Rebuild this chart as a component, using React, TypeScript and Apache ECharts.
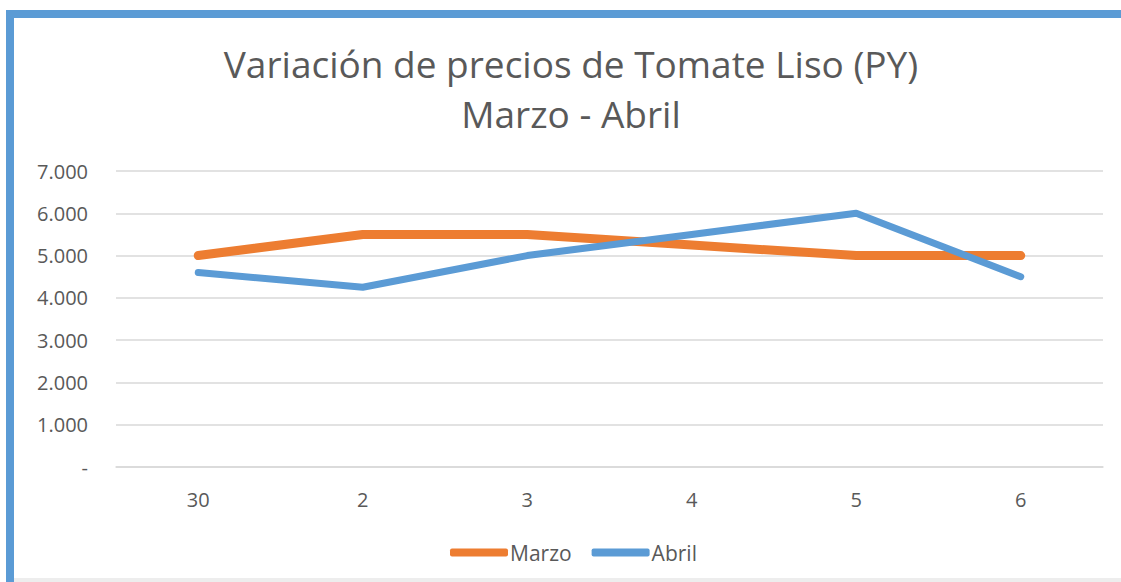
import React, { useEffect, useRef } from "react";
import * as echarts from "echarts";

const categories = ["30", "2", "3", "4", "5", "6"];
const marzo = [5000, 5500, 5500, 5250, 5000, 5000];
const abril = [4600, 4250, 5000, 5500, 6000, 4500];
const titleLine1 = "Variación de precios de Tomate Liso (PY)";
const titleLine2 = "Marzo - Abril";

const FONT = "'Open Sans', 'Liberation Sans', sans-serif";

export default function App() {
  const ref = useRef<HTMLDivElement>(null);
  useEffect(() => {
    const chart = echarts.init(ref.current!, null, { renderer: "svg" });
    chart.setOption({
      animation: false,
      backgroundColor: "#ffffff",
      graphic: [
        { type: "rect", shape: { x: 6, y: 10, width: 1200, height: 8 }, style: { fill: "#5B9BD5" } },
        { type: "rect", shape: { x: 6, y: 10, width: 8, height: 600 }, style: { fill: "#5B9BD5" } },
        { type: "rect", shape: { x: 14, y: 578, width: 1200, height: 4 }, style: { fill: "#EDEDED" } },
        {
          type: "text",
          x: 571,
          y: 63,
          style: {
            text: titleLine1,
            font: `37px ${FONT}`,
            fill: "#595959",
            align: "center",
            verticalAlign: "middle",
          },
        },
        {
          type: "text",
          x: 571,
          y: 113,
          style: {
            text: titleLine2,
            font: `37px ${FONT}`,
            fill: "#595959",
            align: "center",
            verticalAlign: "middle",
          },
        },
      ],
      legend: {
        top: 537,
        left: 445,
        itemWidth: 58,
        itemHeight: 8,
        itemGap: 20,
        icon: "roundRect",
        textStyle: { fontSize: 21, color: "#595959", fontFamily: FONT, padding: [0, 0, 0, -3] },
        data: ["Marzo", "Abril"],
      },
      grid: { left: 116, right: 18, top: 171, bottom: 115, containLabel: false },
      xAxis: {
        type: "category",
        data: categories,
        boundaryGap: true,
        axisLine: { show: true, lineStyle: { color: "#D9D9D9", width: 1.5 } },
        axisTick: { show: false },
        axisLabel: { color: "#595959", fontSize: 20, fontFamily: FONT, margin: 22 },
      },
      yAxis: {
        type: "value",
        min: 0,
        max: 7000,
        interval: 1000,
        axisLine: { show: false },
        axisTick: { show: false },
        splitLine: { lineStyle: { color: "#D9D9D9", width: 1.5 } },
        axisLabel: {
          color: "#595959",
          fontSize: 20,
          fontFamily: FONT,
          margin: 28,
          formatter: (v: number) =>
            v === 0 ? "-" : String(v).replace(/\B(?=(\d{3})+(?!\d))/g, "."),
        },
      },
      series: [
        {
          name: "Marzo",
          type: "line",
          data: marzo,
          symbol: "none",
          color: "#ED7D31",
          lineStyle: { width: 9, cap: "round", join: "round" },
        },
        {
          name: "Abril",
          type: "line",
          data: abril,
          symbol: "none",
          color: "#5B9BD5",
          lineStyle: { width: 7, cap: "round", join: "round" },
        },
      ],
    });
    return () => chart.dispose();
  }, []);
  return (
    <div
      ref={ref}
      style={{ position: "absolute", left: 0, top: 0, width: 1121, height: 582 }}
    />
  );
}
